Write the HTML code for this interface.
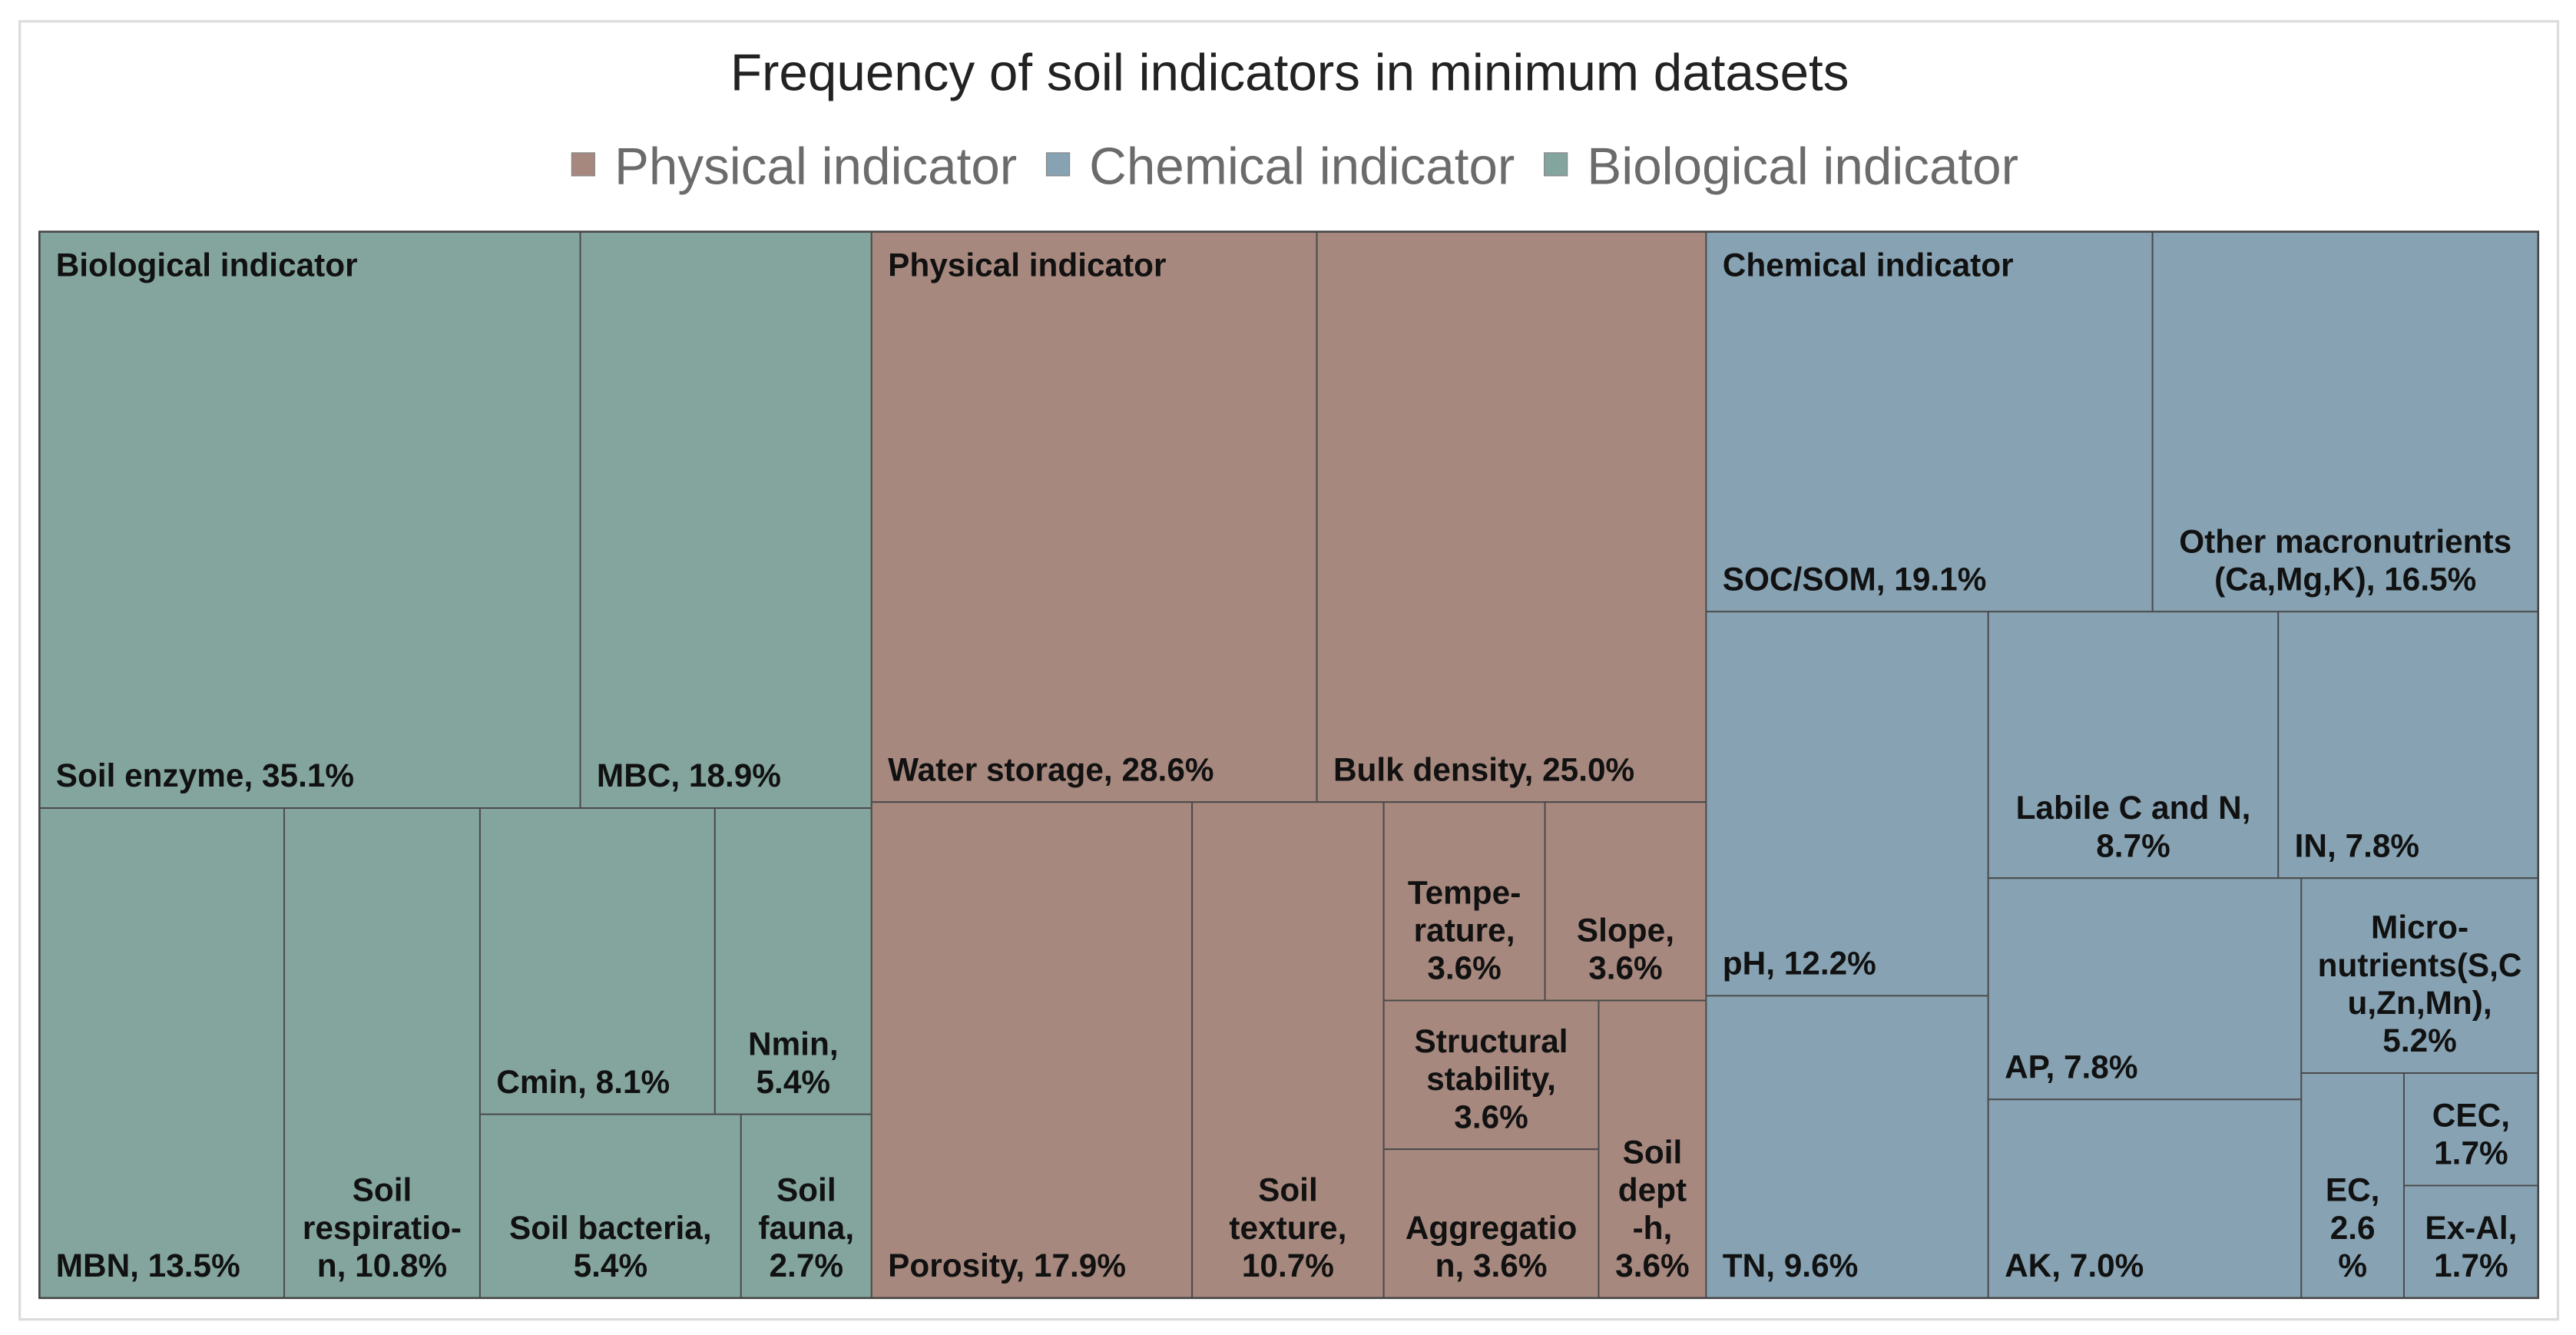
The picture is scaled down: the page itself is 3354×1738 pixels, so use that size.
<!DOCTYPE html>
<html><head><meta charset="utf-8"><style>
html,body{margin:0;padding:0;background:#fff}
svg{display:block}
text{font-family:"Liberation Sans",Arial,sans-serif}
</style></head><body>
<svg id="chart" width="3354" height="1738" viewBox="0 0 1568 812.5" preserveAspectRatio="none" xmlns="http://www.w3.org/2000/svg">
<rect x="12" y="13" width="1545" height="790" fill="#fff" stroke="#dcdcdc" stroke-width="1.5"/>
<text x="785" y="55" text-anchor="middle" font-size="31.5" fill="#222">Frequency of soil indicators in minimum datasets</text>
<g>
<g><rect x="348" y="93" width="14" height="14" fill="#a6887e" stroke="#888" stroke-width="0.6"/><text x="374" y="112" font-size="31.5" fill="#6b6b6b">Physical indicator</text></g>
<g><rect x="637" y="93" width="14" height="14" fill="#87a3b3" stroke="#888" stroke-width="0.6"/><text x="663" y="112" font-size="31.5" fill="#6b6b6b">Chemical indicator</text></g>
<g><rect x="940" y="93" width="14" height="14" fill="#84a59e" stroke="#888" stroke-width="0.6"/><text x="966" y="112" font-size="31.5" fill="#6b6b6b">Biological indicator</text></g>
</g>
<g id="plot"></g>
</svg>
<script>
const groupNames = ["Biological indicator","Physical indicator","Chemical indicator"];
const groupColors = ["#84a59e","#a6887e","#87a3b3"];
const bioLabels = ["Soil enzyme, {v}","MBC, {v}","MBN, {v}","Soil|respiratio-|n, {v}","Cmin, {v}","Nmin,|{v}","Soil bacteria,|{v}","Soil|fauna,|{v}"];
const bioValues = [35.1,18.9,13.5,10.8,8.1,5.4,5.4,2.7];
const physLabels = ["Water storage, {v}","Bulk density, {v}","Porosity, {v}","Soil|texture,|{v}","Tempe-|rature,|{v}","Slope,|{v}","Structural|stability,|{v}","Aggregatio|n, {v}","Soil|dept|-h,|{v}"];
const physValues = [28.6,25.0,17.9,10.7,3.6,3.6,3.6,3.6,3.6];
const chemLabels = ["SOC/SOM, {v}","Other macronutrients|(Ca,Mg,K), {v}","pH, {v}","TN, {v}","Labile C and N,|{v}","IN, {v}","AP, {v}","AK, {v}","Micro-|nutrients(S,C|u,Zn,Mn),|{v}","EC,|{n}|%","CEC,|{v}","Ex-Al,|{v}"];
const chemValues = [19.1,16.5,12.2,9.6,8.7,7.8,7.8,7.0,5.2,2.6,1.7,1.7];

const trees = [
  ['v',['h',0,1],['h',2,3,['v',['h',4,5],['h',6,7]]]],
  ['v',['h',0,1],['h',2,3,['v',['h',4,5],['h',['v',6,7],8]]]],
  ['v',['h',0,1],['h',['v',2,3],['v',['h',4,5],['h',['v',6,7],['v',8,['h',9,['v',10,11]]]]]]]
];
const groupLabels=[bioLabels,physLabels,chemLabels];
const groupValues=[bioValues,physValues,chemValues];
const X0=24,Y0=141,X1=1545,Y1=790;
const plot=document.getElementById('plot');
const NS='http://www.w3.org/2000/svg';
function sum(n,vals){return typeof n==='number'?vals[n]:n.slice(1).reduce((a,c)=>a+sum(c,vals),0);}
function slug(s){return s.replace(/\{v\}|\{n\}/g,'').replace(/[^a-zA-Z0-9]+/g,'-').replace(/^-|-$/g,'').toLowerCase();}
function layout(n,vals,x,y,w,h,out){
  if(typeof n==='number'){out.push({i:n,x,y,w,h});return;}
  const tot=sum(n,vals);let off=0;
  n.slice(1).forEach(c=>{const f=sum(c,vals)/tot;
    if(n[0]==='h'){layout(c,vals,x+off,y,w*f,h,out);off+=w*f;}
    else{layout(c,vals,x,y+off,w,h*f,out);off+=h*f;}});
}
const gTot=groupValues.map((v,i)=>sum(trees[i],v));
const all=gTot.reduce((a,b)=>a+b,0);
let gx=X0;
groupNames.forEach((gn,g)=>{
  const gw=(X1-X0)*gTot[g]/all;
  const grp=document.createElementNS(NS,'g');
  
  
  plot.appendChild(grp);
  const cells=[];layout(trees[g],groupValues[g],gx,Y0,gw,Y1-Y0,cells);
  cells.forEach(c=>{
    const r=document.createElementNS(NS,'rect');
    r.setAttribute('x',c.x);r.setAttribute('y',c.y);r.setAttribute('width',c.w);r.setAttribute('height',c.h);
    r.setAttribute('fill',groupColors[g]);r.setAttribute('stroke','#4a4a4a');r.setAttribute('stroke-width','0.9');
    
    
    grp.appendChild(r);
  });
  cells.forEach(c=>{
    const val=groupValues[g][c.i];
    const lines=groupLabels[g][c.i].replace('{v}',val.toFixed(1)+'%').replace('{n}',val.toFixed(1)).split('|');
    const multi=lines.length>1;
    lines.forEach((ln,k)=>{
      const t=document.createElementNS(NS,'text');
      t.setAttribute('x',multi?c.x+c.w/2:c.x+10);
      t.setAttribute('y',c.y+c.h-13-(lines.length-1-k)*23);
      t.setAttribute('text-anchor',multi?'middle':'start');
      t.setAttribute('font-size','19.8');t.setAttribute('font-weight','bold');t.setAttribute('fill','#111');
      
      
      t.textContent=ln;grp.appendChild(t);
    });
  });
  const gl=document.createElementNS(NS,'text');
  gl.setAttribute('x',gx+10);gl.setAttribute('y',Y0+27);
  gl.setAttribute('font-size','19.8');gl.setAttribute('font-weight','bold');gl.setAttribute('fill','#111');
  
  
  gl.textContent=gn;grp.appendChild(gl);
  gx+=gw;
});
const border=document.createElementNS(NS,'rect');
border.setAttribute('x',X0);border.setAttribute('y',Y0);border.setAttribute('width',X1-X0);border.setAttribute('height',Y1-Y0);
border.setAttribute('fill','none');border.setAttribute('stroke','#444');border.setAttribute('stroke-width','1.2');


plot.appendChild(border);
</script>
</body></html>
